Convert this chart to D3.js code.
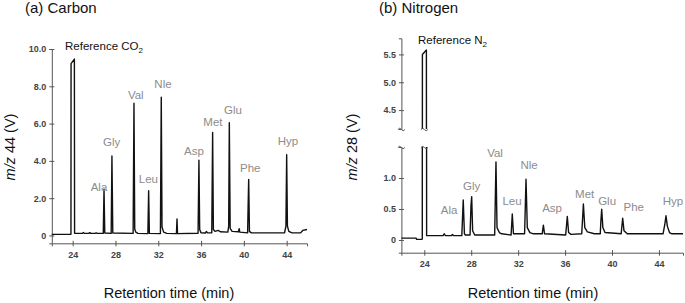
<!DOCTYPE html>
<html lang="en">
<head>
<meta charset="utf-8">
<style>
html, body { margin: 0; padding: 0; background: #fff; }
svg { display: block; font-family: "Liberation Sans", Arial, sans-serif; }
</style>
</head>
<body>
<svg width="685" height="303"></svg>
<script src="https://cdn.jsdelivr.net/npm/d3@7/dist/d3.min.js"></script>
<script>
// ---- data ----
var xTicks = [24, 28, 32, 36, 40, 44];
var carbonYTicks = [0, 2, 4, 6, 8, 10];
var nitroLowTicks = [0, 0.5, 1.0];
var nitroHighTicks = [4.5, 5.0, 5.5];

var aminoAcids = ["Ala", "Gly", "Val", "Leu", "Nle", "Asp", "Met", "Glu", "Phe", "Hyp"];

// label anchors in data units (retention time, signal)
var carbonLabelT = [26.46, 27.64, 29.90, 31.08, 32.44, 35.34, 37.11, 38.98, 40.60, 44.12];
var carbonLabelV = [2.39, 4.80, 7.32, 2.82, 7.91, 4.29, 5.87, 6.50, 3.40, 4.85];
var nitroLabelT = [26.11, 28.04, 30.03, 31.48, 32.93, 34.89, 37.67, 39.58, 41.85, 45.20];
var nitroLabelV = [0.42, 0.81, 1.34, 0.56, 1.15, 0.45, 0.68, 0.57, 0.47, 0.57];

// chromatogram vertices [min, V]
var carbonTrace = [
  [22.05, 0.06], [23.7, 0.06], [23.84, 0.06], [23.85, 9.22], [24.16, 9.46], [24.18, 0.12],
  [24.9, 0.11], [25.0, 0.16], [25.1, 0.11], [25.5, 0.11], [25.6, 0.15], [25.7, 0.11],
  [26.1, 0.11], [26.2, 0.14], [26.3, 0.11],
  [26.86, 0.11], [26.93, 2.48], [27.0, 0.13],
  [27.6, 0.11], [27.67, 4.26], [27.75, 0.13],
  [29.65, 0.11], [29.73, 7.09], [29.8, 0.35], [29.9, 0.18], [30.1, 0.11],
  [31.03, 0.10], [31.1, 2.40], [31.17, 0.11],
  [32.2, 0.10], [32.28, 7.41], [32.35, 0.45], [32.5, 0.18], [32.8, 0.11],
  [33.7, 0.10], [33.75, 0.88], [33.8, 0.10],
  [35.72, 0.12], [35.8, 4.03], [35.87, 0.32], [36.0, 0.14],
  [36.4, 0.13], [36.5, 0.22], [36.6, 0.14],
  [37.0, 0.14], [37.08, 5.53], [37.15, 0.32], [37.3, 0.22], [37.6, 0.27], [37.8, 0.2],
  [38.5, 0.18], [38.58, 0.5], [38.64, 6.05], [38.72, 0.38], [38.9, 0.22],
  [39.5, 0.2], [39.56, 0.36], [39.62, 0.18],
  [40.35, 0.14], [40.42, 2.2], [40.45, 3.01], [40.52, 0.22], [40.7, 0.14],
  [43.8, 0.14], [43.93, 0.5], [44.0, 4.33], [44.07, 0.5], [44.2, 0.22], [44.5, 0.14],
  [45.3, 0.14], [45.5, 0.27], [45.9, 0.32]
];

var nitroTrace = [
  [22.05, 0.03], [23.3, 0.03], [23.35, 0.01], [23.8, 0.01], [23.83, 0.02], [23.84, 5.5],
  [24.18, 5.58], [24.2, 0.07],
  [25.6, 0.07], [25.7, 0.1], [25.8, 0.07], [26.3, 0.07], [26.4, 0.09], [26.5, 0.07],
  [27.2, 0.07], [27.32, 0.645], [27.42, 0.1], [27.5, 0.08],
  [27.9, 0.08], [27.98, 0.55], [28.04, 0.70], [28.12, 0.15], [28.3, 0.08],
  [30.0, 0.08], [30.11, 1.26], [30.2, 0.2], [30.4, 0.12], [30.6, 0.1],
  [31.4, 0.08], [31.5, 0.42], [31.6, 0.1],
  [32.55, 0.1], [32.67, 0.98], [32.78, 0.2], [33.0, 0.12], [33.3, 0.1],
  [34.05, 0.1], [34.15, 0.24], [34.25, 0.1],
  [36.05, 0.08], [36.19, 0.38], [36.3, 0.12], [36.5, 0.09],
  [37.42, 0.1], [37.56, 0.58], [37.68, 0.2], [37.9, 0.13], [38.5, 0.1],
  [39.0, 0.1], [39.05, 0.3], [39.12, 0.495], [39.22, 0.2], [39.4, 0.12],
  [40.78, 0.1], [40.91, 0.35], [41.02, 0.15], [41.3, 0.1],
  [44.35, 0.1], [44.5, 0.25], [44.6, 0.39], [44.72, 0.22], [44.9, 0.12], [45.1, 0.1],
  [46.05, 0.1]
];

// ---- drawing ----
var svg = d3.select("svg");
var axisColor = "#555";
var labelGrey = "#8c8c8c";
var traceWidth = 1.4;

var line = function (x, y) {
  return d3.line().x(function (d) { return x(d[0]); }).y(function (d) { return y(d[1]); });
};

function fmtY(d) { return d === 0 ? "0" : d3.format(".1f")(d); }

function yAxis(x0, y, ticks) {
  var g = svg.append("g").attr("transform", "translate(" + x0 + ",0)")
    .call(d3.axisLeft(y).tickValues(ticks).tickFormat(fmtY).tickSizeOuter(0).tickSize(2.5).tickPadding(3));
  g.select(".domain").attr("stroke", axisColor);
  g.selectAll(".tick line").attr("stroke", axisColor).attr("x1", 2.5);
  g.selectAll(".tick text").attr("fill", "#444").attr("font-size", 9).attr("font-weight", "bold")
    .attr("font-family", "Liberation Sans, Arial, sans-serif");
  return g;
}

function xAxis(y0, x) {
  var g = svg.append("g").attr("transform", "translate(0," + y0 + ")")
    .call(d3.axisBottom(x).tickValues(xTicks).tickSizeOuter(0).tickSize(3).tickPadding(5));
  g.select(".domain").attr("stroke", axisColor);
  g.selectAll(".tick line").attr("stroke", axisColor).attr("y1", -2.5);
  g.selectAll(".tick text").attr("fill", "#444").attr("font-size", 9).attr("font-weight", "bold")
    .attr("font-family", "Liberation Sans, Arial, sans-serif");
  return g;
}

function peakLabels(x, y, tArr, vArr) {
  svg.append("g").selectAll("text").data(aminoAcids).join("text")
    .attr("x", function (d, i) { return x(tArr[i]); })
    .attr("y", function (d, i) { return y(vArr[i]); })
    .attr("text-anchor", "middle")
    .attr("font-size", 11.5)
    .attr("fill", labelGrey)
    .text(function (d) { return d; });
}

function refLabel(px, py, gas) {
  var t = svg.append("text").attr("x", px).attr("y", py).attr("font-size", 11.5).attr("fill", "#111");
  t.append("tspan").text("Reference " + gas);
  t.append("tspan").attr("dy", 3).attr("font-size", 8).text("2");
}

function yTitle(px, py, num) {
  var t = svg.append("text").attr("transform", "translate(" + px + "," + py + ") rotate(-90)")
    .attr("text-anchor", "middle").attr("font-size", 14.5).attr("fill", "#111");
  t.append("tspan").attr("font-style", "italic").text("m/z");
  t.append("tspan").text(" " + num + " (V)");
}

function xTitle(cx) {
  svg.append("text").attr("x", cx).attr("y", 298).attr("text-anchor", "middle")
    .attr("font-size", 14.5).attr("fill", "#111").text("Retention time (min)");
}

// (a) Carbon
var xC = d3.scaleLinear().domain([22.05, 45.9]).range([51.8, 307]);
var yC = d3.scaleLinear().domain([-0.42, 10]).range([243.3, 49]);

svg.append("text").attr("x", 25).attr("y", 13).attr("font-size", 15).attr("fill", "#111").text("(a) Carbon");
yAxis(51.8, yC, carbonYTicks);
xAxis(243.3, xC);
svg.append("path").attr("d", line(xC, yC)(carbonTrace))
  .attr("fill", "none").attr("stroke", "#111").attr("stroke-width", traceWidth).attr("stroke-linejoin", "round");
peakLabels(xC, yC, carbonLabelT, carbonLabelV);
refLabel(65, 50, "CO");
yTitle(15, 147, "44");
xTitle(169);

// (b) Nitrogen, broken y axis
var xN = d3.scaleLinear().domain([22.05, 46.05]).range([401.4, 683]);
var yLow = d3.scaleLinear().domain([-0.205, 1.5]).range([252.7, 147]);
var yHigh = d3.scaleLinear().domain([4.16, 5.79]).range([129, 38.3]);

svg.append("text").attr("x", 379).attr("y", 13).attr("font-size", 15).attr("fill", "#111").text("(b) Nitrogen");

var defs = svg.append("defs");
defs.append("clipPath").attr("id", "clipLow").append("rect")
  .attr("x", 401).attr("y", 147).attr("width", 284).attr("height", 106);
defs.append("clipPath").attr("id", "clipHigh").append("rect")
  .attr("x", 401).attr("y", 38).attr("width", 284).attr("height", 91);

yAxis(401.4, yLow, nitroLowTicks);
yAxis(401.4, yHigh, nitroHighTicks);
xAxis(252.7, xN);

svg.append("path").attr("d", line(xN, yLow)(nitroTrace)).attr("clip-path", "url(#clipLow)")
  .attr("fill", "none").attr("stroke", "#111").attr("stroke-width", traceWidth).attr("stroke-linejoin", "round");
svg.append("path").attr("d", line(xN, yHigh)(nitroTrace)).attr("clip-path", "url(#clipHigh)")
  .attr("fill", "none").attr("stroke", "#111").attr("stroke-width", traceWidth).attr("stroke-linejoin", "round");

// break marks on axis and reference peak
var breakX = [xN.range()[0], xN(24.01)];
[yHigh.range()[0], yLow.range()[1]].forEach(function (by) {
  breakX.forEach(function (bx) {
    svg.append("path")
      .attr("d", "M" + (bx - 3.5) + "," + (by + 0.5) + " q1.75,-2.5 3.5,0 t3.5,0")
      .attr("fill", "none").attr("stroke", axisColor).attr("stroke-width", 1);
  });
});

peakLabels(xN, yLow, nitroLabelT, nitroLabelV);
refLabel(418, 44, "N");
yTitle(357, 147, "28");
xTitle(533);
</script>
</body>
</html>
